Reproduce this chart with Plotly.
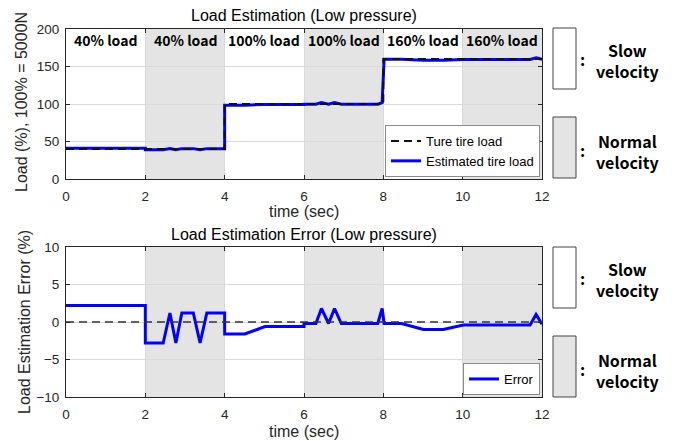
import plotly.graph_objects as go

# ---------------- data ----------------
true_t = [0, 4, 4, 8, 8, 12]
true_load = [40, 40, 100, 100, 160, 160]

est_t = [0, 2, 2, 2.45, 2.62, 2.77, 2.92, 3.21, 3.38, 3.55, 4, 4, 4.51, 5.02, 6, 6, 6.3, 6.44,
         6.62, 6.77, 6.94, 7.86, 7.97, 8.02, 8.46, 9.01, 9.51, 10.02, 11.7, 11.85, 12]
est_load = [40.9, 40.9, 38.9, 38.9, 40.5, 38.9, 40.5, 40.5, 38.9, 40.5, 40.5, 98.4, 98.4, 99.4,
            99.4, 99.8, 99.8, 101.8, 99.8, 101.8, 99.8, 99.8, 101.8, 159.7, 159.7, 158.4, 158.4,
            159.4, 159.4, 161.6, 159.5]

err_t = est_t
err_val = [2.2, 2.2, -2.8, -2.8, 1.2, -2.8, 1.2, 1.2, -2.8, 1.2, 1.2, -1.6, -1.6, -0.6, -0.6,
           -0.2, -0.2, 1.8, -0.2, 1.8, -0.2, -0.2, 1.8, -0.2, -0.2, -1.0, -1.0, -0.4, -0.4, 1.0, -0.3]

zero_t = [0, 12]
zero_val = [0, 0]

normal_spans = [(2, 4), (6, 8), (10, 12)]
region_centers = [1, 3, 5, 7, 9, 11]
region_labels = ["40% load", "40% load", "100% load", "100% load", "160% load", "160% load"]

x_ticks = [0, 2, 4, 6, 8, 10, 12]
top_ticks = [0, 50, 100, 150, 200]
bot_ticks = [-10, -5, 0, 5, 10]

# ---------------- figure ----------------
W, H = 684, 441
def px(x):
    return x / W
def py(y):
    return 1 - y / H

fig = go.Figure()

BLUE = "#0000ff"
TXT = "#262626"
TICKFONT = dict(family="Liberation Sans, Arial, sans-serif", size=13.5, color=TXT)
CJK = "Noto Sans CJK KR, Noto Sans, sans-serif"

fig.add_trace(go.Scatter(x=est_t, y=est_load, mode="lines", name="Estimated tire load",
                         line=dict(color=BLUE, width=3), xaxis="x", yaxis="y",
                         legend="legend", legendrank=2))
fig.add_trace(go.Scatter(x=true_t, y=true_load, mode="lines", name="Ture tire load",
                         line=dict(color="#111111", width=2, dash="8px,5px"), xaxis="x", yaxis="y",
                         legend="legend", legendrank=1))

fig.add_trace(go.Scatter(x=err_t, y=err_val, mode="lines", name="Error",
                         line=dict(color=BLUE, width=3), xaxis="x2", yaxis="y2",
                         legend="legend2"))
fig.add_trace(go.Scatter(x=zero_t, y=zero_val, mode="lines", showlegend=False,
                         line=dict(color="#333333", width=1.5, dash="8px,5px"),
                         xaxis="x2", yaxis="y2", hoverinfo="skip"))

shapes = []
for (a, b) in normal_spans:
    for xr, yr, y0, y1 in [("x", "y", 0, 200), ("x2", "y2", -10, 10)]:
        shapes.append(dict(type="rect", xref=xr, yref=yr, x0=a, x1=b, y0=y0, y1=y1,
                           fillcolor="#e4e4e4", line=dict(width=0), layer="below"))

# legend boxes on the right
box_x0, box_x1 = px(553), px(576)
for (y0, y1, col) in [(28, 89, "white"), (117, 178, "#e4e4e4"),
                      (247, 308, "white"), (336, 397, "#e4e4e4")]:
    shapes.append(dict(type="rect", xref="paper", yref="paper", x0=box_x0, x1=box_x1,
                       y0=py(y1), y1=py(y0), fillcolor=col,
                       line=dict(color="#444444", width=1)))

annotations = []
def ann(**kw):
    d = dict(showarrow=False, xanchor="center", yanchor="middle")
    d.update(kw)
    annotations.append(d)

for c, lab in zip(region_centers, region_labels):
    ann(x=c, y=185, xref="x", yref="y", text="<b>" + lab + "</b>",
        font=dict(family=CJK, size=14, color="black"))

for (ymid, txt) in [(60, "Slow<br>velocity"), (151, "Normal<br>velocity"),
                    (279, "Slow<br>velocity"), (370, "Normal<br>velocity")]:
    ann(x=px(582), y=py(ymid - 1), xref="paper", yref="paper", text="<b>:</b>",
        font=dict(family=CJK, size=16, color="black"))
    ann(x=px(627), y=py(ymid), xref="paper", yref="paper",
        text="<b>" + txt + "</b>", font=dict(family=CJK, size=16, color="black"))

# titles and axis labels
TITLEFONT = dict(family="Liberation Sans, Arial, sans-serif", size=16, color="black")
ann(x=px(304), y=py(15), xref="paper", yref="paper",
    text="Load Estimation (Low pressure)", font=TITLEFONT)
ann(x=px(304), y=py(234), xref="paper", yref="paper",
    text="Load Estimation Error (Low pressure)", font=TITLEFONT)
LABFONT = dict(family="Liberation Sans, Arial, sans-serif", size=16, color=TXT)
ann(x=px(304), y=py(212), xref="paper", yref="paper", text="time (sec)", font=LABFONT)
ann(x=px(304), y=py(431), xref="paper", yref="paper", text="time (sec)", font=LABFONT)
ann(x=px(21), y=py(102), xref="paper", yref="paper", textangle=-90,
    text="Load (%), 100% = 5000N", font=LABFONT)
ann(x=px(24), y=py(322), xref="paper", yref="paper", textangle=-90,
    text="Load Estimation Error (%)", font=LABFONT)

axis_common = dict(showgrid=True, gridcolor="#d9d9d9", gridwidth=1, zeroline=False,
                   showline=True, linecolor="#262626", linewidth=1, mirror="ticks",
                   ticks="inside", ticklen=4, tickcolor="#262626", tickfont=TICKFONT,
                   automargin=False)

xd = [px(66), px(542)]
fig.update_layout(
    width=W, height=H, margin=dict(l=0, r=0, t=0, b=0, pad=0, autoexpand=False),
    paper_bgcolor="white", plot_bgcolor="white",
    xaxis=dict(domain=xd, range=[0, 12], tickvals=x_ticks, anchor="y", ticklabelstandoff=5,
               **axis_common),
    yaxis=dict(domain=[py(179), py(29)], range=[0, 200], tickvals=top_ticks, anchor="x",
               ticklabelstandoff=3, **axis_common),
    xaxis2=dict(domain=xd, range=[0, 12], tickvals=x_ticks, anchor="y2", ticklabelstandoff=5,
                **axis_common),
    yaxis2=dict(domain=[py(397), py(247)], range=[-10, 10], tickvals=bot_ticks, anchor="x2",
                ticklabelstandoff=3, **axis_common),
    shapes=shapes, annotations=annotations,
    legend=dict(x=px(540), y=py(177), xanchor="right", yanchor="bottom",
                bgcolor="white", bordercolor="#8c8c8c", borderwidth=1,
                font=dict(family="Liberation Sans, Arial, sans-serif", size=13, color="black"),
                tracegroupgap=0, itemwidth=30),
    legend2=dict(x=px(540), y=py(395), xanchor="right", yanchor="bottom",
                 bgcolor="white", bordercolor="#8c8c8c", borderwidth=1,
                 font=dict(family="Liberation Sans, Arial, sans-serif", size=13, color="black"),
                 itemwidth=30),
    showlegend=True,
)

fig.write_html("out.html")
